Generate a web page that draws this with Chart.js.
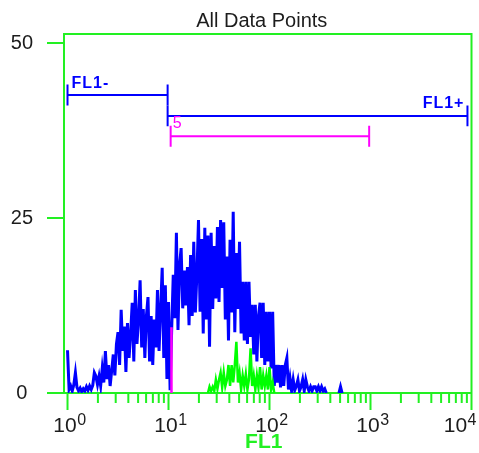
<!DOCTYPE html>
<html>
<head>
<meta charset="utf-8">
<script src="https://cdn.jsdelivr.net/npm/chart.js@4.4.1/dist/chart.umd.min.js"></script>
<style>
  html, body { margin: 0; padding: 0; background: #fff; }
  #wrap { width: 479px; height: 453px; }
</style>
</head>
<body>
<div id="wrap"><canvas id="histChart" width="479" height="453"></canvas></div>
<script>
// chart texts
const chartTitle = 'All Data Points';
const axisTitle = 'FL1';

// FL1 channels: 256 channels over 4 decades
const channelsPerDecade = 64;

// all events, counts per channel starting at channel 0
const allCounts = [
  6.1, 0.5, 1.0, 0.3, 1.2, 2.9, 0.8, 0.3, 0.7, 0.2,
  0.6, 0.3, 0.9, 0.4, 1.0, 0.5, 1.1, 2.9, 2.4, 1.2,
  2.4, 1.0, 3.5, 1.5, 6.0, 2.0, 4.0, 1.0, 3.2, 5.5,
  2.5, 7.0, 8.7, 4.0, 11.9, 6.0, 9.5, 3.0, 10.0, 5.0,
  8.5, 12.9, 4.5, 14.7, 7.0, 10.5, 16.1, 6.5, 12.0, 5.0,
  11.0, 13.7, 4.5, 11.0, 4.0, 10.5, 6.5, 14.7, 6.0, 12.0,
  17.9, 5.0, 15.4, 2.0, 13.0, 0.4, 9.0, 16.9, 10.7, 22.9,
  9.0, 18.3, 20.7, 12.1, 17.5, 12.5, 18.0, 9.7, 19.7, 11.0,
  21.6, 11.5, 17.0, 24.7, 11.6, 22.0, 8.5, 23.6, 10.5, 22.5,
  6.6, 22.9, 12.0, 21.0, 13.5, 23.7, 13.0, 24.7, 15.0, 24.4,
  10.5, 19.5, 7.5, 21.9, 11.5, 25.9, 8.7, 20.0, 12.0, 21.6,
  8.5, 15.9, 7.5, 15.9, 7.0, 15.9, 8.0, 12.6, 5.5, 12.6,
  4.5, 11.0, 12.9, 5.0, 12.9, 4.0, 11.6, 4.5, 11.6, 3.5,
  11.6, 1.0, 4.0, 1.5, 4.0, 0.8, 4.0, 1.0, 4.0, 5.0,
  0.5, 2.1, 0.3, 1.9, 0.4, 1.0, 1.9, 0.3, 0.9, 1.9,
  0.3, 1.9, 0.9, 0.3, 0.9, 0.3, 0.9, 0.9, 0.3, 0.9,
  0.3, 0.9, 0.3, 0.6, 0, null, null, null, null, null,
  null, null, 0, 0.9, 0
];

// FL1+ positive events, counts per channel starting at greenStart
const greenStart = 89;
const greenCounts = [
  0, 0.9, 0.3, 0.9, 0.3, 1.9, 0.6, 1.9, 2.9, 0.8,
  2.9, 1.0, 1.9, 4.0, 1.0, 4.0, 1.5, 4.0, 7.3, 1.5,
  2.9, 0.5, 2.5, 1.0, 2.7, 0.5, 2.0, 6.4, 1.0, 2.5,
  0.5, 2.5, 0.8, 3.7, 0.5, 2.5, 1.0, 2.5, 0.5, 3.7,
  0.5, 1.5, 0
];

// gate 5 edge events
const edgeFL1 = [10.7, 10.7];
const edgeCounts = [0, 9.4];

// gates
const gateNames = ['FL1-', 'FL1+', '5'];
const gateLo = [1, 9.8, 10.5];
const gateHi = [9.8, 9120, 970];
const gateLevel = [42.6, 39.6, 36.7];

// axes
const yTicks = [0, 25, 50];
const xDecades = [0, 1, 2, 3, 4];
const xMin = 0.923;
const xMax = 10000;
const yMax = 51.3;

const frameGreen = '#22f022';
const blue = '#0000ff';
const magenta = '#ff00ff';
const textColor = '#1c1c1c';
const fontFamily = '"Liberation Sans", Arial, sans-serif';

const toFL1 = ch => Math.pow(10, ch / channelsPerDecade);

const gateColors = [blue, blue, magenta];
const capHalf = 1.5;

const gateSets = gateNames.map((name, i) => ({
  label: name,
  data: [
    { x: gateLo[i], y: gateLevel[i] + capHalf },
    { x: gateLo[i], y: gateLevel[i] - capHalf },
    { x: gateLo[i], y: gateLevel[i] },
    { x: gateHi[i], y: gateLevel[i] },
    { x: gateHi[i], y: gateLevel[i] + capHalf },
    { x: gateHi[i], y: gateLevel[i] - capHalf }
  ],
  borderColor: gateColors[i],
  borderWidth: 2,
  pointRadius: 0,
  order: 0
}));

// draws frame, x ticks, tick labels, titles and gate names
const decorPlugin = {
  id: 'decor',
  afterDraw(chart) {
    const ctx = chart.ctx;
    const area = chart.chartArea;
    const xs = chart.scales.x;
    const ys = chart.scales.y;
    ctx.save();

    // top and right frame
    ctx.strokeStyle = frameGreen;
    ctx.lineWidth = 2;
    ctx.beginPath();
    ctx.moveTo(area.left, area.top);
    ctx.lineTo(area.right, area.top);
    ctx.lineTo(area.right, area.bottom);
    ctx.stroke();

    // log ticks under the x axis
    ctx.beginPath();
    xDecades.forEach(d => {
      for (let m = 1; m <= 9; m++) {
        const v = m * Math.pow(10, d);
        if (v > xMax) break;
        const px = xs.getPixelForValue(v);
        const len = m === 1 ? 17 : 10;
        ctx.moveTo(px, area.bottom);
        ctx.lineTo(px, area.bottom + len);
      }
    });
    ctx.stroke();

    // x tick labels 10^n
    ctx.fillStyle = textColor;
    ctx.textBaseline = 'alphabetic';
    ctx.textAlign = 'left';
    xDecades.forEach(d => {
      const px = xs.getPixelForValue(Math.pow(10, d));
      ctx.font = '21px ' + fontFamily;
      const w = ctx.measureText('10').width;
      ctx.font = '16px ' + fontFamily;
      const sw = ctx.measureText(String(d)).width;
      let x0 = px - w / 2 - 2.5;
      if (x0 + w + sw > chart.width - 3) x0 = chart.width - 3 - w - sw;
      ctx.font = '21px ' + fontFamily;
      ctx.fillText('10', x0, area.bottom + 39);
      ctx.font = '16px ' + fontFamily;
      ctx.fillText(String(d), x0 + w + 0.5, area.bottom + 32);
    });

    // axis title
    ctx.font = 'bold 21px ' + fontFamily;
    ctx.fillStyle = frameGreen;
    ctx.textAlign = 'center';
    ctx.fillText(axisTitle, (area.left + area.right) / 2 - 4, area.bottom + 55);

    // chart title
    ctx.font = '20px ' + fontFamily;
    ctx.fillStyle = textColor;
    ctx.fillText(chartTitle, (area.left + area.right) / 2 - 6, 27);

    // gate names
    ctx.letterSpacing = '1px';
    ctx.font = 'bold 16px ' + fontFamily;
    ctx.fillStyle = blue;
    ctx.textAlign = 'left';
    ctx.fillText(gateNames[0], xs.getPixelForValue(gateLo[0]) + 4, ys.getPixelForValue(gateLevel[0]) - 7);
    ctx.textAlign = 'right';
    ctx.fillText(gateNames[1], xs.getPixelForValue(gateHi[1]) - 3, ys.getPixelForValue(gateLevel[1]) - 8);
    ctx.letterSpacing = '0px';
    ctx.font = '16px ' + fontFamily;
    ctx.fillStyle = magenta;
    ctx.textAlign = 'left';
    ctx.fillText(gateNames[2], xs.getPixelForValue(gateLo[2]) + 2, ys.getPixelForValue(gateLevel[2]) - 8);

    ctx.restore();
  }
};

const ctx = document.getElementById('histChart').getContext('2d');

const histChart = new Chart(ctx, {
  type: 'line',
  data: {
    datasets: [
      ...gateSets,
      {
        label: 'gate 5 edge',
        data: edgeFL1.map((v, i) => ({ x: v, y: edgeCounts[i] })),
        borderColor: magenta,
        borderWidth: 2.5,
        pointRadius: 0,
        order: 1
      },
      {
        label: 'FL1+',
        data: greenCounts.map((c, i) => ({ x: toFL1(greenStart + i), y: c })),
        borderColor: '#00ff00',
        borderWidth: 2.5,
        pointRadius: 0,
        order: 2
      },
      {
        label: 'All',
        data: allCounts.map((c, ch) => ({ x: toFL1(ch), y: c })),
        borderColor: blue,
        borderWidth: 3,
        pointRadius: 0,
        order: 3
      }
    ]
  },
  options: {
    responsive: false,
    animation: false,
    layout: { padding: { top: 34, right: 7.5, left: 0, bottom: 0 } },
    plugins: {
      legend: { display: false },
      tooltip: { enabled: false },
      title: { display: false }
    },
    elements: { line: { tension: 0 } },
    scales: {
      x: {
        type: 'logarithmic',
        min: xMin,
        max: xMax,
        border: { display: true, color: frameGreen, width: 2 },
        grid: { display: false },
        ticks: { display: false },
        afterFit: s => { s.height = 60; }
      },
      y: {
        min: 0,
        max: yMax,
        border: { display: true, color: frameGreen, width: 2 },
        grid: {
          drawOnChartArea: false,
          drawTicks: true,
          tickLength: 17,
          color: frameGreen,
          lineWidth: 2
        },
        ticks: {
          padding: 14,
          crossAlign: 'center',
          color: textColor,
          font: { family: fontFamily, size: 20 }
        },
        afterBuildTicks: s => { s.ticks = yTicks.map(v => ({ value: v })); },
        afterFit: s => { s.width = 64; }
      }
    }
  },
  plugins: [decorPlugin]
});
</script>
</body>
</html>
